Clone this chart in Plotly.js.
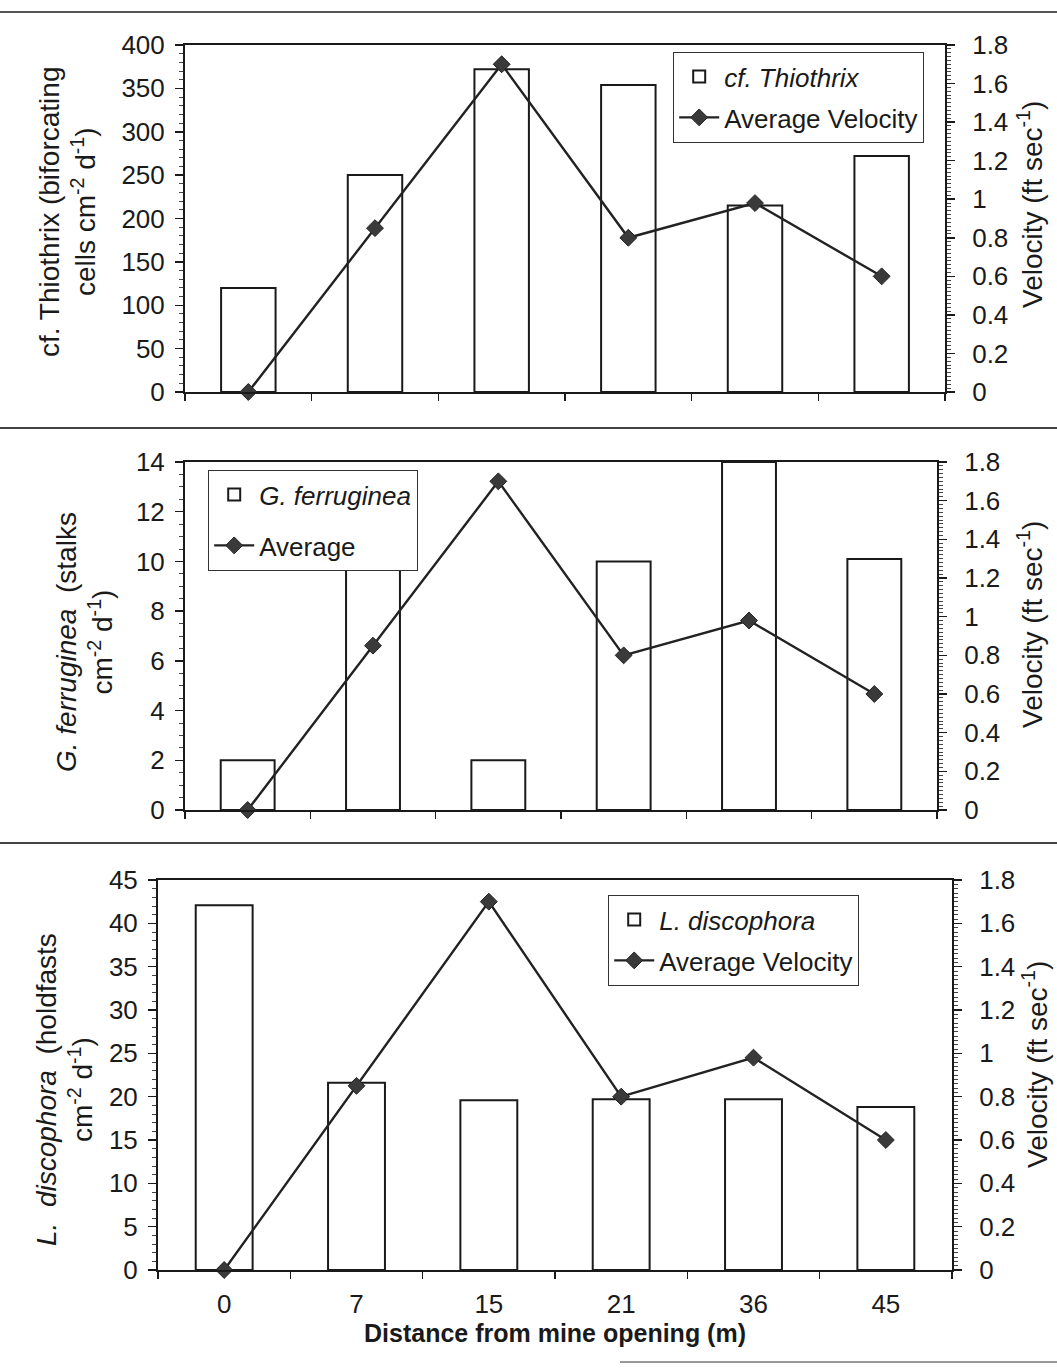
<!DOCTYPE html>
<html>
<head>
<meta charset="utf-8">
<script src="https://cdn.plot.ly/plotly-3.0.1.min.js"></script>
<style>
  html, body { margin: 0; padding: 0; background: #fff; }
  #chart { width: 1057px; height: 1368px; }
</style>
</head>
<body>
<div id="chart"></div>
<script>
// Sampling stations: distance from the mine opening (m)
const distances = ['0', '7', '15', '21', '36', '45'];

// Attachment rates on the slides
const thiothrix = [120, 250, 372, 354, 215, 272];        // biforcating cells cm^-2 d^-1
const ferruginea = [2, 10, 2, 10, 14, 10.1];             // stalks cm^-2 d^-1
const discophora = [42.1, 21.6, 19.6, 19.7, 19.7, 18.8]; // holdfasts cm^-2 d^-1

// Average water velocity at each station (ft sec^-1)
const velocity = [0, 0.85, 1.7, 0.8, 0.98, 0.6];

const W = 1057, H = 1368;
const px = v => v / W;
const py = v => 1 - v / H;

const FONT = 'Liberation Sans, Arial, Helvetica, sans-serif';
const INK = '#1a1a1a';

function barTrace(y, name, xa, ya, leg) {
  return {
    type: 'bar', x: distances, y: y, name: name,
    xaxis: xa, yaxis: ya, legend: leg, legendgroup: 'a' + leg,
    marker: { color: '#ffffff', line: { color: INK, width: 2 } },
    hoverinfo: 'x+y'
  };
}
function velTrace(name, xa, ya, leg) {
  return {
    type: 'scatter', mode: 'lines+markers', x: distances, y: velocity, name: name,
    xaxis: xa, yaxis: ya, legend: leg, legendgroup: 'b' + leg,
    line: { color: '#222', width: 2.4 },
    marker: { symbol: 'diamond', size: 13, color: '#3a3a3a', line: { color: '#222', width: 1 } },
    cliponaxis: false
  };
}

const data = [
  barTrace(thiothrix, '<i>cf. Thiothrix</i>', 'x', 'y', 'legend'),
  velTrace('Average Velocity', 'x', 'y2', 'legend'),
  barTrace(ferruginea, '<i>G. ferruginea</i>', 'x2', 'y3', 'legend2'),
  velTrace('Average', 'x2', 'y4', 'legend2'),
  barTrace(discophora, '<i>L. discophora</i>', 'x3', 'y5', 'legend3'),
  velTrace('Average Velocity', 'x3', 'y6', 'legend3')
];

const tickFont = { family: FONT, size: 26, color: INK };

function xAxis(domain, anchor, labels) {
  return {
    domain: domain, anchor: anchor, type: 'category',
    categoryorder: 'array', categoryarray: distances,
    showline: true, linecolor: INK, linewidth: 2, mirror: true,
    ticks: 'outside', ticklen: 7, tickwidth: 1.5, tickcolor: INK,
    tickson: 'boundaries', showgrid: false, zeroline: false,
    showticklabels: labels, tickfont: tickFont, ticklabelstandoff: 10,
    fixedrange: true
  };
}
function leftAxis(domain, anchor, range, dtick, minor) {
  return {
    domain: domain, anchor: anchor, range: range, dtick: dtick,
    showline: true, linecolor: INK, linewidth: 2,
    ticks: 'outside', ticklen: 8, tickwidth: 1.5, tickcolor: INK,
    minor: { ticks: 'outside', dtick: minor, ticklen: 4, tickwidth: 1, tickcolor: '#444', showgrid: false },
    showgrid: false, zeroline: false,
    tickfont: tickFont, ticklabelstandoff: 5, fixedrange: true
  };
}
function rightAxis(overlay, anchor) {
  return {
    overlaying: overlay, anchor: anchor, side: 'right', range: [0, 1.8], dtick: 0.2,
    showline: true, linecolor: INK, linewidth: 2,
    ticks: 'outside', ticklen: 8, tickwidth: 1.5, tickcolor: INK,
    minor: { ticks: 'outside', dtick: 0.02, ticklen: 4, tickwidth: 1, tickcolor: '#444', showgrid: false },
    showgrid: false, zeroline: false,
    tickfont: tickFont, ticklabelstandoff: 12, fixedrange: true
  };
}

const legendBase = {
  xanchor: 'left', yanchor: 'top', bgcolor: '#ffffff',
  bordercolor: '#333', borderwidth: 1.2,
  font: { family: FONT, size: 26, color: INK },
  traceorder: 'grouped', itemwidth: 40
};

function sideTitle(text, x, y) {
  return {
    text: text, xref: 'paper', yref: 'paper', x: px(x), y: py(y),
    xanchor: 'center', yanchor: 'middle', textangle: -90, showarrow: false,
    align: 'center', font: { family: FONT, size: 28, color: INK }
  };
}

function rule(y, x0, x1, w, c) {
  return { type: 'line', xref: 'paper', yref: 'paper', x0: px(x0), x1: px(x1), y0: py(y), y1: py(y),
           line: { color: c, width: w } };
}

const layout = {
  width: W, height: H,
  margin: { l: 0, r: 0, t: 0, b: 0 },
  paper_bgcolor: '#ffffff', plot_bgcolor: '#ffffff',
  font: { family: FONT, color: INK },
  bargap: 0.57,
  showlegend: true,

  xaxis: xAxis([px(185), px(945)], 'y', false),
  yaxis: leftAxis([py(392), py(45)], 'x', [0, 400], 50, 10),
  yaxis2: rightAxis('y', 'x'),

  xaxis2: xAxis([px(185), px(937)], 'y3', false),
  yaxis3: leftAxis([py(810), py(462)], 'x2', [0, 14], 2, 0.5),
  yaxis4: rightAxis('y3', 'x2'),

  xaxis3: Object.assign(xAxis([px(158), px(952)], 'y5', true), {
    title: { text: '<b>Distance from mine opening (m)</b>', font: { family: FONT, size: 25, color: INK }, standoff: 0 }
  }),
  yaxis5: leftAxis([py(1270), py(880)], 'x3', [0, 45], 5, 1),
  yaxis6: rightAxis('y5', 'x3'),

  legend: Object.assign({}, legendBase, { x: px(673), y: py(52), tracegroupgap: 4 }),
  legend2: Object.assign({}, legendBase, { x: px(208), y: py(470), tracegroupgap: 14 }),
  legend3: Object.assign({}, legendBase, { x: px(608), y: py(895), tracegroupgap: 4 }),

  annotations: [
    sideTitle('cf. Thiothrix (biforcating<br>cells cm<sup>-2</sup> d<sup>-1</sup>)', 68, 212),
    sideTitle('Velocity (ft sec<sup>-1</sup>)', 1030, 205),
    sideTitle('<i>G. ferruginea</i>\u00a0 (stalks<br>cm<sup>-2</sup> d<sup>-1</sup>)', 84, 642),
    sideTitle('Velocity (ft sec<sup>-1</sup>)', 1030, 625),
    sideTitle('<i>L.\u00a0 discophora</i>\u00a0 (holdfasts<br>cm<sup>-2</sup> d<sup>-1</sup>)', 64, 1090),
    sideTitle('Velocity (ft sec<sup>-1</sup>)', 1035, 1065)
  ],

  shapes: [
    rule(12, 0, W, 2, '#555'),
    rule(428, 0, W, 2, '#444'),
    rule(843, 0, W, 2, '#444'),
    rule(1362, 620, W, 1.5, '#777')
  ]
};

Plotly.newPlot('chart', data, layout, { staticPlot: true, displayModeBar: false });
</script>
</body>
</html>
